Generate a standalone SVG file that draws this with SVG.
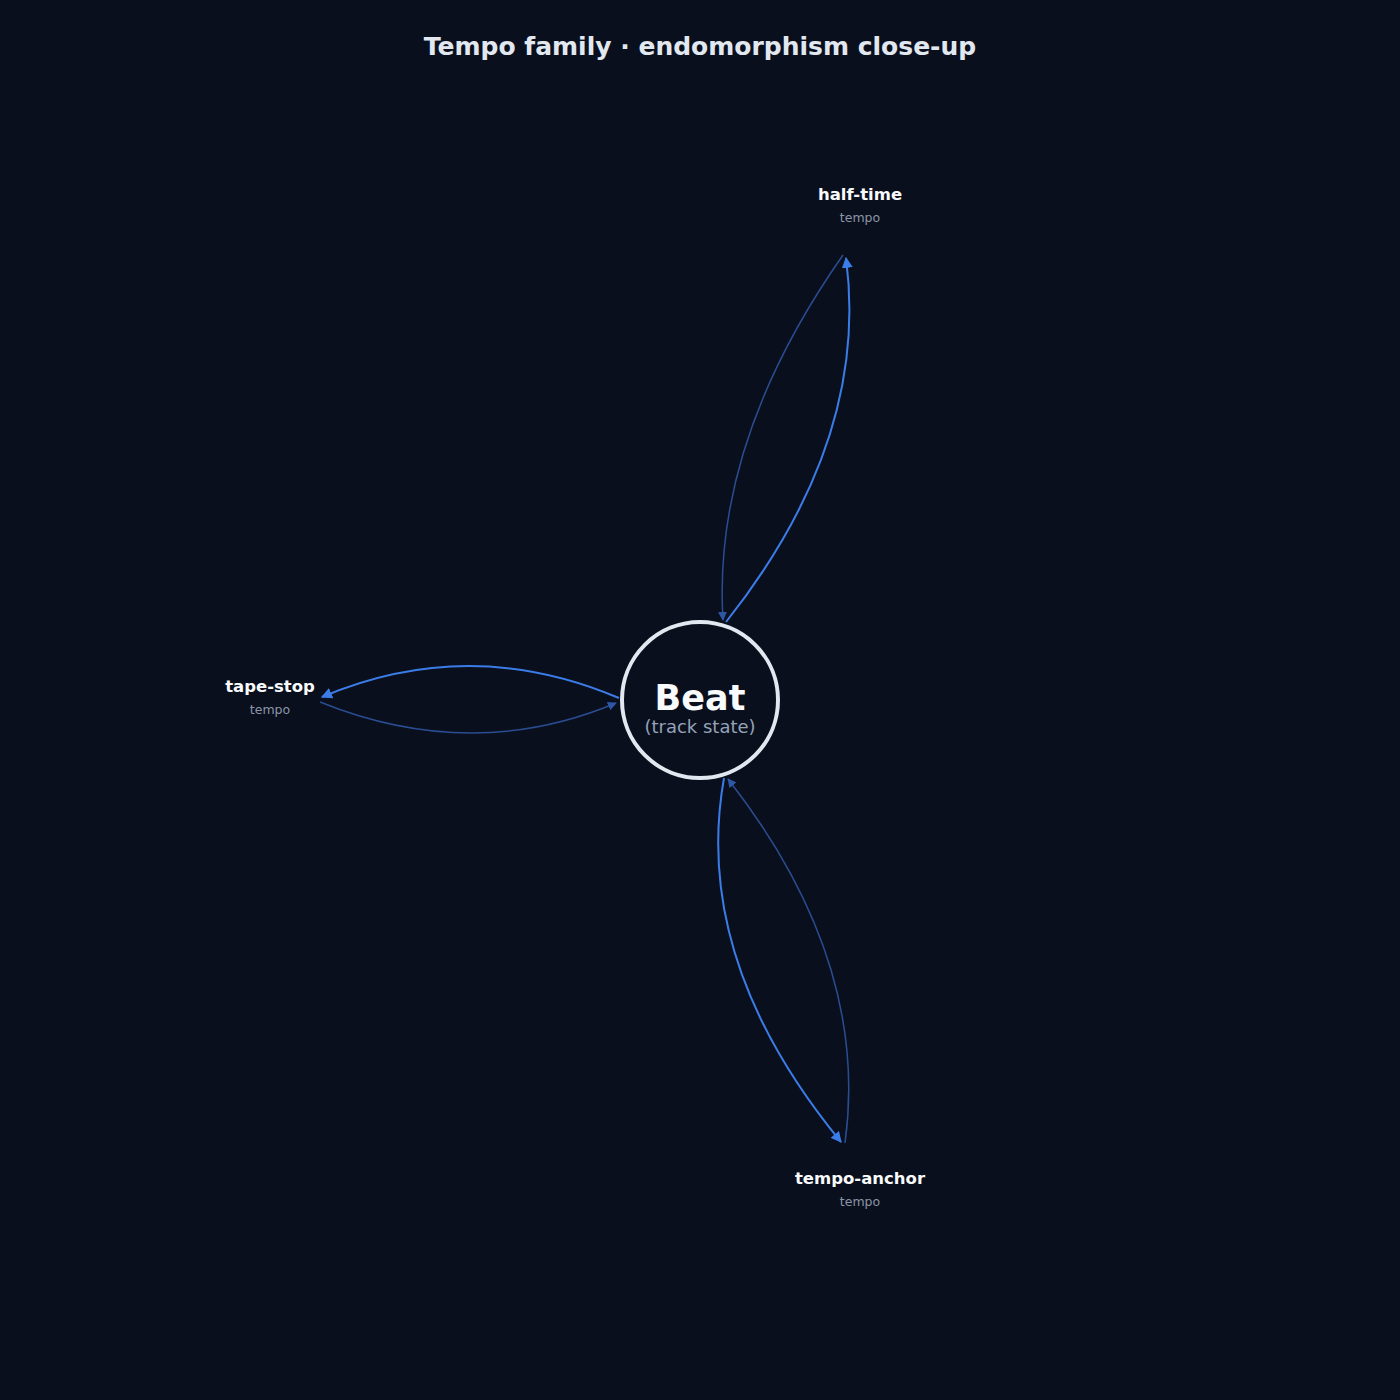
<svg xmlns="http://www.w3.org/2000/svg" width="1400" height="1400" viewBox="0 0 1400 1400">
<style>
.title{font-family:"DejaVu Sans",sans-serif;font-weight:bold;font-size:25px;fill:#e2e8f0;text-anchor:middle}
.lbl{font-family:"DejaVu Sans",sans-serif;font-weight:bold;font-size:16.5px;fill:#f8fafc;text-anchor:middle}
.sub{font-family:"DejaVu Sans",sans-serif;font-size:12.5px;fill:#8b95a8;text-anchor:middle}
.out{fill:none;stroke:#3b7de8;stroke-width:2}
.in{fill:none;stroke:#2a4d92;stroke-width:1.5}
</style>
<defs>
<marker id="ah" viewBox="0 0 10 10" refX="9" refY="5" markerWidth="5.5" markerHeight="5.5" orient="auto" markerUnits="strokeWidth">
<path d="M0,0 L10,5 L0,10 Z" fill="#3b7de8"/>
</marker>
<marker id="ahd" viewBox="0 0 10 10" refX="9" refY="5" markerWidth="6" markerHeight="6" orient="auto" markerUnits="strokeWidth">
<path d="M0,0 L10,5 L0,10 Z" fill="#2d56a4"/>
</marker>
</defs>
<rect width="1400" height="1400" fill="#0a0f1d"/>
<text class="title" x="700" y="55">Tempo family · endomorphism close-up</text>
<g id="connectors">
<path class="out" d="M726,622 Q870,440 846,258" marker-end="url(#ah)"/>
<path class="in" d="M843,255 Q712,442 723,620" marker-end="url(#ahd)"/>
<path class="out" d="M619,698 Q469.5,634.5 322,697" marker-end="url(#ah)"/>
<path class="in" d="M320,702 Q472,763.5 616,703" marker-end="url(#ahd)"/>
<path class="out" d="M724,778 Q691.5,960 841,1142" marker-end="url(#ah)"/>
<path class="in" d="M845,1143 Q870,961 728,779" marker-end="url(#ahd)"/>
</g>
<g id="beat">
<circle cx="700" cy="700" r="78" fill="#0a0f1e" stroke="#e2e8f0" stroke-width="4"/>
<text x="700" y="710" font-family="DejaVu Sans,sans-serif" font-weight="bold" font-size="35" fill="#f8fafc" text-anchor="middle">Beat</text>
<text x="700" y="733" font-family="DejaVu Sans,sans-serif" font-size="18" fill="#94a3b8" text-anchor="middle">(track state)</text>
</g>
<g id="half-time">
<text class="lbl" x="860" y="200">half-time</text>
<text class="sub" x="860" y="222">tempo</text>
</g>
<g id="tape-stop">
<text class="lbl" x="270" y="692">tape-stop</text>
<text class="sub" x="270" y="714">tempo</text>
</g>
<g id="tempo-anchor">
<text class="lbl" x="860" y="1184">tempo-anchor</text>
<text class="sub" x="860" y="1206">tempo</text>
</g>
</svg>
